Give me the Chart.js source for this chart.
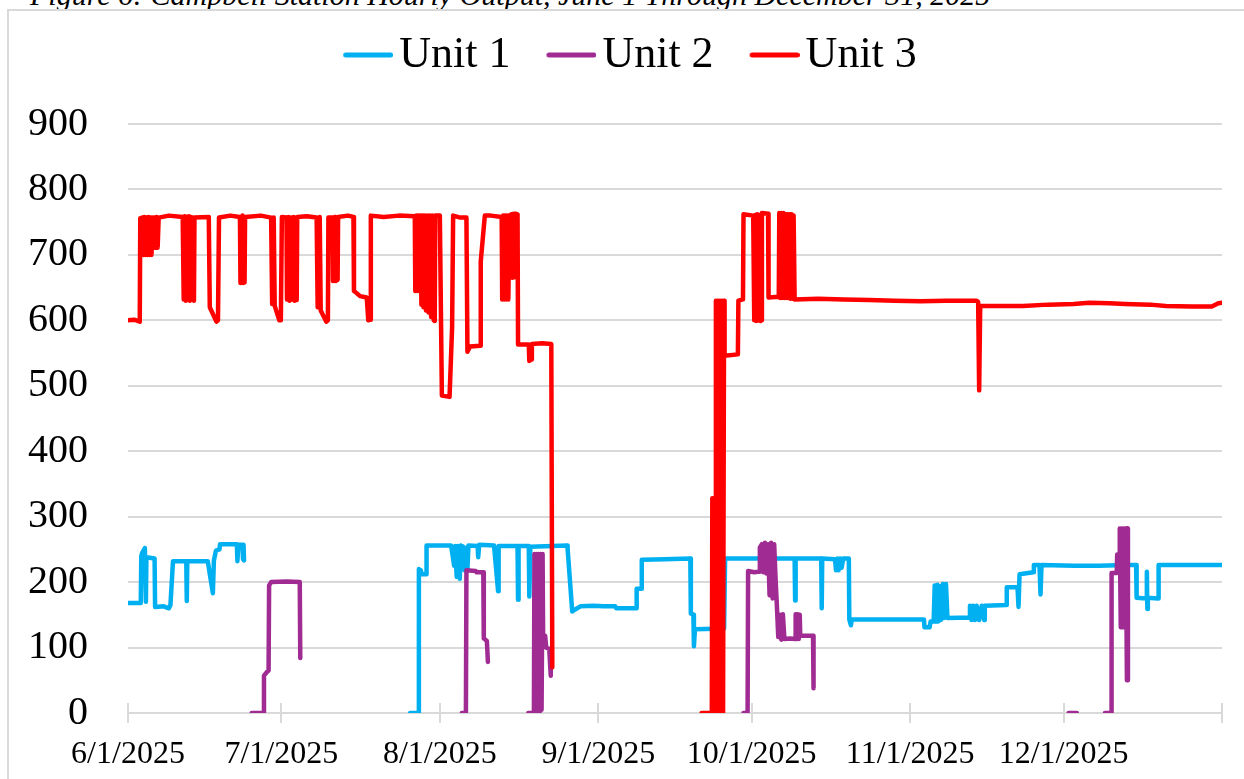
<!DOCTYPE html>
<html>
<head>
<meta charset="utf-8">
<script src="https://cdn.jsdelivr.net/npm/chart.js@4.4.1/dist/chart.umd.min.js"></script>
<style>
  html, body { margin: 0; padding: 0; background: #ffffff; overflow: hidden; }
  #wrap { position: relative; width: 1244px; height: 779px; overflow: hidden; background: #fff; }
  #caption { position: absolute; left: 30px; top: -20px; font-family: "Liberation Serif", serif; font-style: italic; font-size: 30px; line-height: 30px; white-space: nowrap; color: #000; }
  #frame { position: absolute; left: 7px; top: 9px; width: 1300px; height: 900px; border: 2px solid #d9d9d9; box-sizing: border-box; }
  #chart { position: absolute; left: 0; top: 0; }
</style>
</head>
<body>
<div id="wrap">
  <div id="caption">Figure 6: Campbell Station Hourly Output, June 1 Through December 31, 2025</div>
  <div id="frame"></div>
  <canvas id="chart" width="1244" height="779"></canvas>
</div>
<script>
// ---- Data (x = days since 6/1/2025, y = MW) ----
const seriesNames = ['Unit 1', 'Unit 2', 'Unit 3'];
const monthStartDays = [0, 30, 61, 92, 122, 153, 183, 214];
const monthLabels = ['6/1/2025', '7/1/2025', '8/1/2025', '9/1/2025', '10/1/2025', '11/1/2025', '12/1/2025', ''];
const yTicks = [0, 100, 200, 300, 400, 500, 600, 700, 800, 900];

const unit1 = [
  [0,168],[2.5,168],[2.6,240],[2.8,245],[3.3,252],[3.5,170],[3.6,238],[5.2,236],[5.3,162],[7.0,163],[8.0,160],[8.3,165],[8.8,232],
  [11.4,232],[11.5,171],[11.6,232],[15.6,232],[16.6,183],[16.8,233],[17.2,248],[17.9,250],[18.0,258],[21.3,258],[21.4,232],[21.6,257],[22.4,257],[22.5,235],[22.6,257],[22.7,233],
  [22.8,null],
  [55.2,0],[56.8,0],[56.9,220],[57.3,218],[57.4,212],[58.3,212],[58.4,256],
  [63.2,256],[63.8,225],[64.0,255],[64.3,208],[64.5,255],[64.9,205],[65.1,256],[65.6,254],[65.8,218],[66.1,252],[66.4,220],[66.6,256],
  [68.4,255],[68.5,238],[68.7,257],[71.6,256],[72.4,186],[72.5,255],[76.2,255],[76.3,173],[76.4,255],[78.4,255],[78.5,178],[78.7,254],
  [85.9,256],[86.0,250],[86.9,155],[87.2,157],[88.5,163],[91,164],[93,163],[95.3,163],[95.5,160],[97,160],[99.4,160],[99.5,190],[100.4,190],[100.5,234],
  [105,235],[110.0,236],[110.1,152],[110.6,150],[110.7,102],[110.9,128],[116.6,129],[116.8,236],
  [130.4,236],[130.5,172],[130.6,236],[135.6,236],[135.7,160],[135.8,236],
  [138.3,235],[138.5,218],[138.8,236],[139.0,218],[139.3,236],[139.6,222],[139.9,236],
  [141.0,236],[141.1,143],[141.4,134],[141.6,143],[148,143],[155.7,143],[155.8,131],[156.8,131],[157.0,140],
  [157.6,140],[157.8,195],[158.0,140],[158.3,196],[158.5,140],[158.8,194],[159.0,142],[159.4,197],[159.6,145],[160.0,197],[160.3,145],
  [164.6,146],[164.7,164],[165.0,142],[165.3,164],[165.7,142],[166.0,164],[166.5,142],[167.0,164],[167.5,142],[167.6,164],
  [171.8,165],[171.9,192],[174.0,192],[174.2,162],[174.4,212],[177.1,215],[177.2,226],[178.3,226],[178.5,181],[178.7,226],
  [185,225],[190,225],[195,226],[197.2,226],[197.3,176],[199.2,175],[199.3,216],[199.4,159],[199.5,176],[201.5,175],[201.6,226],
  [207,226],[214,226]
];

const unit2 = [
  [24.2,0],[26.5,0],[26.6,57],[27.2,63],[27.5,65],[27.6,195],[28.0,200],[31,201],[33.6,200],[33.7,84],
  [33.8,null],
  [65.3,0],[66.1,0],[66.2,218],[68.0,217],[68.2,215],[69.5,215],[69.6,114],[70.2,110],[70.4,78],
  [70.5,null],
  [78.3,0],[79.4,0],[79.5,243],[79.7,0],[79.9,243],[80.1,0],[80.3,243],[80.5,0],[80.7,243],[80.9,5],[81.1,243],[81.2,120],[81.6,118],[81.8,100],[82.4,98],[82.6,70],[82.7,57],
  [82.8,null],
  [120.4,0],[121.2,0],[121.3,217],[122.5,215],[123.5,216],[123.6,253],[124.0,258],[124.3,215],[124.6,260],[124.9,213],[125.2,258],[125.5,180],[125.8,260],[126.1,175],[126.4,258],[126.7,200],[126.9,169],
  [127.2,116],[127.5,150],[127.8,112],[128.1,151],[128.4,113],[129.5,114],[130.5,113],[130.6,151],[130.8,113],[131.0,151],[131.2,113],[131.4,150],[131.5,118],[134.0,118],[134.1,38],
  [134.2,null],
  [184.0,0],[185.6,0],
  [185.7,null],
  [191.1,0],[192.3,0],[192.4,214],[193.4,214],[193.5,242],[193.9,242],[194.0,282],[194.2,131],[194.4,282],[194.6,131],[194.8,282],[195.0,140],[195.2,282],[195.4,50],[195.5,282],[195.6,50]
];

const unit3 = [
  [0,600],[1.2,601],[2.3,598],[2.4,756],
  [2.6,700],[2.8,757],[3.0,700],[3.2,758],[3.4,700],[3.6,757],[3.8,700],[4.0,758],[4.2,700],[4.4,757],[4.6,700],[4.8,757],
  [5.0,711],[5.2,757],[5.4,711],[5.6,758],[5.8,711],[6.0,757],
  [8,760],[10.7,758],
  [10.9,632],[11.1,759],[11.3,630],[11.5,758],[11.7,632],[11.9,759],[12.1,630],[12.3,758],[12.5,632],[12.7,757],[12.9,630],[13.0,757],
  [15.8,758],[16.0,620],[17.3,598],[17.6,600],[17.8,757],
  [20,760],[21.9,758],[22.0,657],[22.4,760],[22.5,657],[22.8,658],[22.9,758],
  [26,760],[28.0,757],[28.2,625],[28.5,757],[28.7,622],[29.6,600],[29.9,600],[30.1,758],
  [31.0,757],[31.1,632],[31.4,758],[31.6,630],[31.9,757],[32.1,632],[32.4,758],[32.6,630],[32.9,757],[33.0,631],[33.1,758],
  [35,759],[36.9,757],[37.1,620],[37.5,758],[37.7,615],[38.8,598],[39.1,600],[39.2,757],
  [40.0,757],[40.1,660],[40.5,758],[40.6,660],[41.0,662],[41.1,758],
  [43,760],[44.1,758],[44.2,645],[45.4,637],[46.7,635],[47.0,600],[47.4,601],[47.5,760],
  [50,758],[53,760],[56.1,759],
  [56.2,645],[56.4,760],[56.6,645],[56.8,760],[57.0,645],[57.2,760],
  [57.4,624],[57.6,760],[57.8,620],[58.0,760],[58.3,615],[58.5,760],[58.8,612],[59.0,760],[59.3,605],[59.5,760],[59.8,600],[60.0,599],[60.1,760],
  [61.0,760],[61.4,485],[62.9,483],[63.4,590],[63.6,760],
  [65,757],[66.2,757],[66.4,552],[66.9,560],[68.9,561],[69.0,690],[69.8,760],
  [71,760],[73.1,758],
  [73.2,632],[73.4,760],[73.6,632],[73.8,760],[74.0,632],[74.2,760],[74.4,632],[74.6,760],
  [74.8,665],[75.0,762],[75.2,665],[75.4,763],[75.6,666],[75.8,763],[76.2,762],[76.3,563],
  [78.4,563],[78.5,538],[78.9,540],[79.0,564],[81,565],[82.8,564],[83.0,70],
  [83.1,null],
  [112.2,0],[114.2,0],
  [114.3,328],[114.5,0],[114.7,328],[114.9,0],
  [115.0,630],[115.2,0],[115.4,630],[115.6,0],[115.8,630],[116.0,0],[116.2,630],[116.4,0],[116.6,630],[116.7,546],
  [119.3,548],[119.4,630],[120.3,632],[120.4,762],[122.3,760],
  [122.5,600],[122.7,761],[122.9,599],[123.1,762],[123.3,600],[123.5,761],[123.7,599],[123.9,600],[124.0,764],
  [125.2,763],[125.3,635],[127.3,636],
  [127.4,764],[127.6,634],[127.8,764],[128.0,634],[128.2,764],[128.4,634],[128.6,762],[128.8,634],[129.0,762],[129.2,634],[129.4,762],[129.6,633],[129.8,762],[130.0,633],[130.2,760],[130.4,632],
  [135,633],[140,632],[145,631],[150,630],[155,629],[160,630],[166.0,630],[166.3,628],[166.5,493],[166.7,622],
  [170,622],[175,622],[180,624],[185,625],[188,627],[192,626],[195,625],[200,624],[203,622],[208,621],[212,621],[213.3,626],[214,627]
];

const seriesColors = ['#00B0F0', '#A02B93', '#FF0000'];

// ---- Chart ----
const FONT = '"Liberation Serif", "Times New Roman", serif';

function legendLine(color) {
  const c = document.createElement('canvas');
  c.width = 69; c.height = 10;
  const g = c.getContext('2d');
  g.strokeStyle = color; g.lineWidth = 5; g.lineCap = 'round';
  g.beginPath(); g.moveTo(21.5, 5); g.lineTo(66.5, 5); g.stroke();
  return c;
}

const toXY = arr => arr.map(p => ({ x: p[0], y: p[1] }));
const seriesData = [unit1, unit2, unit3];

const xTickCross = {
  id: 'xTickCross',
  afterLayout(chart) {
    // let the y tick labels use the full left margin (avoid clipping)
    chart.scales.y.left = 0;
  },
  beforeDatasetsDraw(chart) {
    const s = chart.scales.x, ctx = chart.ctx, b = chart.chartArea.bottom;
    ctx.save();
    ctx.strokeStyle = '#d9d9d9'; ctx.lineWidth = 2;
    monthStartDays.forEach(d => {
      const px = Math.round(s.getPixelForValue(d));
      ctx.beginPath(); ctx.moveTo(px, b - 10); ctx.lineTo(px, b + 10); ctx.stroke();
    });
    ctx.restore();
  }
};

const PAD_LEFT = 35;

new Chart(document.getElementById('chart'), {
  type: 'line',
  data: {
    datasets: seriesNames.map((name, i) => ({
      label: name,
      data: toXY(seriesData[i]),
      borderColor: seriesColors[i],
      backgroundColor: seriesColors[i],
      borderWidth: 4.5,
      borderCapStyle: 'round',
      borderJoinStyle: 'round',
      pointRadius: 0,
      tension: 0,
      fill: false,
      spanGaps: false,
      order: 3 - i
    }))
  },
  options: {
    responsive: false,
    animation: false,
    events: [],
    layout: { padding: { top: 0, left: PAD_LEFT, right: 22, bottom: 0 } },
    plugins: {
      tooltip: { enabled: false },
      title: {
        display: true,
        text: '',
        weight: 500,
        position: 'top',
        font: { size: 10, lineHeight: 1 },
        padding: { top: 0, bottom: 27 }
      },
      legend: {
        display: true,
        position: 'top',
        align: 'center',
        labels: {
          font: { family: FONT, size: 44 },
          color: '#000',
          usePointStyle: true,
          pointStyleWidth: 37,
          padding: 33,
          generateLabels: (chart) => seriesNames.map((name, i) => ({
            text: name,
            fillStyle: seriesColors[i],
            strokeStyle: seriesColors[i],
            lineWidth: 0,
            pointStyle: legendLine(seriesColors[i]),
            datasetIndex: i,
            hidden: false,
            fontColor: '#000'
          }))
        }
      }
    },
    scales: {
      x: {
        type: 'linear',
        min: 0,
        max: 214,
        afterBuildTicks: (scale) => { scale.ticks = monthStartDays.map(v => ({ value: v })); },
        afterFit: (scale) => { scale.height = 66; scale.paddingRight = 0; },
        ticks: {
          autoSkip: false,
          maxRotation: 0,
          minRotation: 0,
          padding: 22,
          color: '#000',
          font: { family: FONT, size: 32 },
          callback: (v) => { const k = monthStartDays.indexOf(v); return k >= 0 ? monthLabels[k] : ''; }
        },
        grid: { display: true, drawOnChartArea: false, drawTicks: false },
        border: { display: false }
      },
      y: {
        min: 0,
        max: 900,
        afterBuildTicks: (scale) => { scale.ticks = yTicks.map(v => ({ value: v })); },
        afterFit: (scale) => { scale.width = 128 - PAD_LEFT; },
        ticks: {
          padding: 40,
          color: '#000',
          font: { family: FONT, size: 40 }
        },
        grid: { color: '#d9d9d9', lineWidth: 2, drawTicks: false },
        border: { display: false }
      }
    }
  },
  plugins: [xTickCross]
});
</script>
</body>
</html>
